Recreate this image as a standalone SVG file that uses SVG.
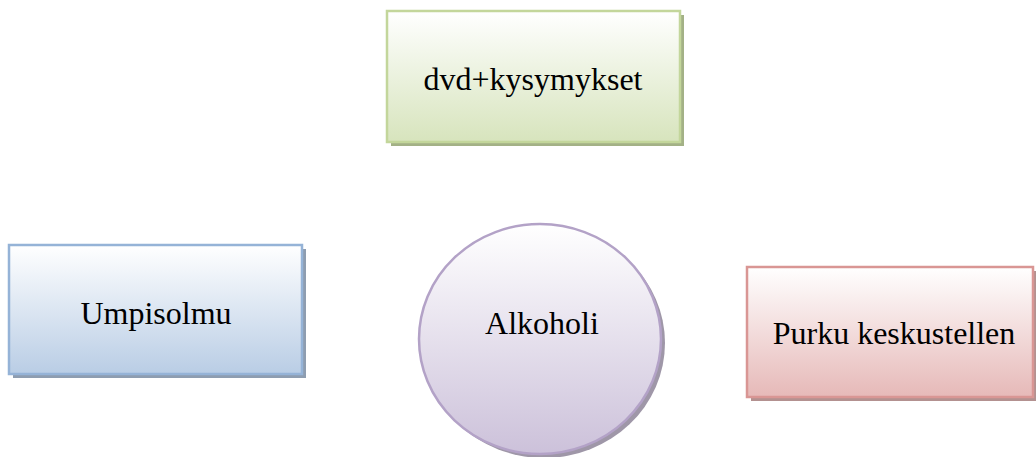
<svg xmlns="http://www.w3.org/2000/svg" width="1036" height="457" viewBox="0 0 1036 457">
<defs>
<linearGradient id="gG" x1="0" y1="0" x2="0" y2="1"><stop offset="0" stop-color="#ffffff"/><stop offset="1" stop-color="#d7e4bd"/></linearGradient>
<linearGradient id="gB" x1="0" y1="0" x2="0" y2="1"><stop offset="0" stop-color="#ffffff"/><stop offset="1" stop-color="#b9cde5"/></linearGradient>
<linearGradient id="gP" x1="0" y1="0" x2="0" y2="1"><stop offset="0" stop-color="#ffffff"/><stop offset="1" stop-color="#ccc1da"/></linearGradient>
<linearGradient id="gR" x1="0" y1="0" x2="0" y2="1"><stop offset="0" stop-color="#ffffff"/><stop offset="1" stop-color="#e6b9b8"/></linearGradient>
</defs>
<style>
text{font-family:"Liberation Serif","Times New Roman",serif;font-size:32px;fill:#000;text-anchor:middle}
.b{stroke-width:2.5}
</style>
<rect width="1036" height="457" fill="#ffffff"/>
<g id="node-dvd">
<rect x="391" y="15" width="293" height="131" fill="#a3b186"/>
<rect x="387" y="11" width="293" height="131" fill="url(#gG)" stroke="#c3d69b" class="b"/>
<text x="533" y="90">dvd+kysymykset</text>
</g>
<g id="node-umpisolmu">
<rect x="13" y="249" width="293" height="129" fill="#8e9db0"/>
<rect x="9" y="245" width="293" height="129" fill="url(#gB)" stroke="#95b3d7" class="b"/>
<text x="156" y="324">Umpisolmu</text>
</g>
<g id="node-alkoholi">
<ellipse cx="544" cy="343" rx="121" ry="115" fill="#9f97a8"/>
<ellipse cx="540" cy="339" rx="121" ry="115" fill="url(#gP)" stroke="#b3a2c7" class="b"/>
<text x="542" y="334">Alkoholi</text>
</g>
<g id="node-purku">
<rect x="751" y="271" width="286" height="130" fill="#b39190"/>
<rect x="747" y="267" width="286" height="130" fill="url(#gR)" stroke="#d99694" class="b"/>
<text x="894" y="344">Purku keskustellen</text>
</g>
<g id="connectors"></g>
</svg>
